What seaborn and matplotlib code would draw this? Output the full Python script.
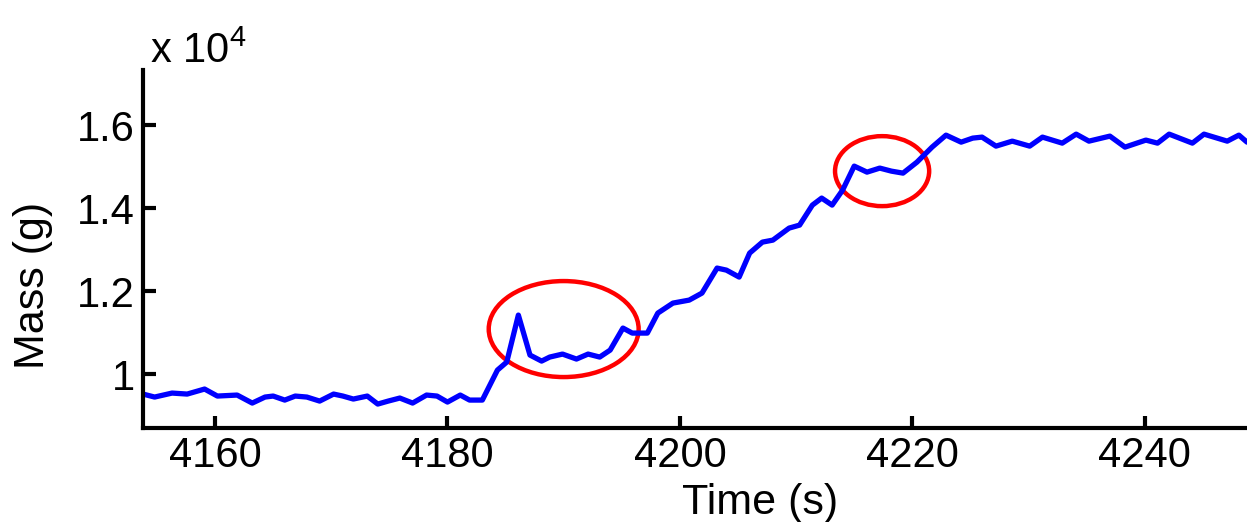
import numpy as np
import pandas as pd
import seaborn as sns
import matplotlib.pyplot as plt
from matplotlib.patches import Ellipse
from matplotlib.ticker import FuncFormatter

# values
time_s = [
    4153.8, 4154.8, 4156.3, 4157.6, 4159.1, 4160.2, 4161.9, 4163.2, 4164.3,
    4165.0, 4166.0, 4166.9, 4167.9, 4169.0, 4170.2, 4171.0, 4171.9, 4173.1,
    4174.0, 4174.9, 4175.9, 4177.0, 4178.2, 4179.1, 4180.0, 4181.1, 4181.9,
    4183.0, 4184.3, 4185.1, 4186.1, 4187.1, 4188.1, 4188.8, 4189.9, 4191.1,
    4192.1, 4193.1, 4194.0, 4195.1, 4195.9, 4197.2, 4198.1, 4199.4, 4200.8,
    4201.9, 4203.2, 4204.0, 4205.1, 4206.0, 4207.1, 4208.0, 4209.4, 4210.3,
    4211.4, 4212.2, 4213.1, 4214.0, 4215.0, 4216.1, 4217.2, 4218.2, 4219.2,
    4220.4, 4221.7, 4222.9, 4224.2, 4225.2, 4226.0, 4227.2, 4228.6, 4230.1,
    4231.2, 4232.9, 4234.1, 4235.2, 4237.0, 4238.3, 4240.1, 4241.1, 4242.1,
    4244.1, 4245.1, 4247.1, 4248.1, 4248.8,
]
mass_g = [
    9518, 9446, 9542, 9518, 9639, 9470, 9494, 9301, 9446,
    9470, 9373, 9470, 9446, 9349, 9518, 9470, 9398, 9470,
    9277, 9349, 9422, 9301, 9494, 9470, 9325, 9494, 9373,
    9373, 10096, 10289, 11422, 10458, 10313, 10410, 10482, 10362,
    10482, 10410, 10578, 11109, 10988, 10988, 11470, 11711, 11783,
    11952, 12555, 12506, 12338, 12916, 13181, 13229, 13519, 13591,
    14073, 14242, 14073, 14434, 15013, 14868, 14965, 14892, 14844,
    15109, 15471, 15760, 15591, 15688, 15712, 15495, 15615, 15495,
    15712, 15567, 15784, 15615, 15736, 15471, 15640, 15567, 15784,
    15567, 15784, 15615, 15760, 15591,
]

# highlighted regions: centre time, centre mass, width (s), height (g)
circle_t = [4190.0, 4217.4]
circle_m = [11085, 14892]
circle_w = [12.9, 8.1]
circle_h = [2314, 1687]

x_ticks = [4160, 4180, 4200, 4220, 4240]
y_ticks = [10000, 12000, 14000, 16000]

df = pd.DataFrame({"Time": time_s, "Mass": mass_g})

sns.set_style("ticks")
plt.rcParams["font.family"] = ["Liberation Sans", "DejaVu Sans"]
plt.rcParams["text.color"] = "black"
plt.rcParams["axes.labelcolor"] = "black"

fig = plt.figure(figsize=(12.47, 5.22), dpi=100)
ax = fig.add_axes([143 / 1247, 1 - 428 / 522, 1 - 143 / 1247, (428 - 70) / 522])

sns.lineplot(data=df, x="Time", y="Mass", ax=ax, color="#0000ff", lw=3.8)

for t, m, w, h in zip(circle_t, circle_m, circle_w, circle_h):
    ax.add_patch(Ellipse((t, m), w, h, fill=False, edgecolor="#ff0000", lw=3.2))

ax.set_xlim(4153.8, 4248.8)
ax.set_ylim(8700, 17330)
ax.set_xticks(x_ticks)
ax.set_yticks(y_ticks)
ax.yaxis.set_major_formatter(FuncFormatter(lambda v, p: f"{v / 1e4:g}"))
ax.set_xlabel("")
ax.set_ylabel("")

for side in ["top", "right"]:
    ax.spines[side].set_visible(False)
for side in ["left", "bottom"]:
    ax.spines[side].set_linewidth(3)
    ax.spines[side].set_color("black")

ax.tick_params(direction="in", length=9, width=3, labelsize=30, pad=6, colors="black")

fig.text(150 / 1247, 1 - 52 / 522, r"x 10$^{\mathregular{4}}$", fontsize=30,
         va="center", ha="left", color="black")
fig.text(760 / 1247, 1 - 503 / 522, "Time (s)", fontsize=31, ha="center",
         va="center", color="black")
fig.text(33 / 1247, 1 - 285 / 522, "Mass (g)", fontsize=31, ha="center",
         va="center", rotation=90, color="black")

plt.savefig("out.png", dpi=100)
